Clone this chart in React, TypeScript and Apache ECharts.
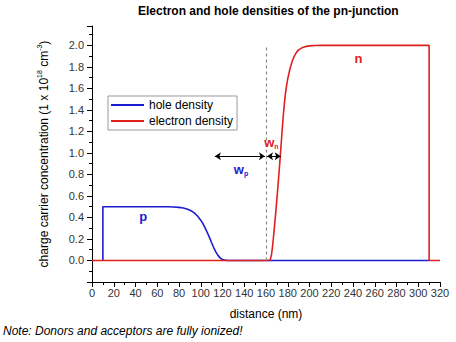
import React, { useEffect, useRef } from "react";
import * as echarts from "echarts";

const FONT = "'Liberation Sans', Arial, Helvetica, sans-serif";

const xTicks = [0, 20, 40, 60, 80, 100, 120, 140, 160, 180, 200, 220, 240, 260, 280, 300, 320];
const yTickLabels = ["0.0", "0.2", "0.4", "0.6", "0.8", "1.0", "1.2", "1.4", "1.6", "1.8", "2.0"];

const holeDistance = [10, 10, 20, 40, 60, 70, 75, 80, 84, 88, 91, 94, 97, 100, 102, 104, 106, 108, 110, 112, 114, 116, 118, 120, 122, 125, 310];
const holeValues = [0, 0.5, 0.5, 0.5, 0.5, 0.499, 0.497, 0.494, 0.488, 0.477, 0.463, 0.443, 0.414, 0.375, 0.343, 0.303, 0.26, 0.215, 0.165, 0.118, 0.078, 0.045, 0.022, 0.009, 0.003, 0, 0];

const electronDistance = [0, 163, 164, 165, 166, 167, 168, 169, 170, 171, 172, 173, 174, 175, 176, 177, 178, 179, 180, 182, 184, 186, 188, 190, 193, 196, 200, 205, 210, 310, 310, 320];
const electronValues = [0, 0, 0.01, 0.05, 0.13, 0.23, 0.34, 0.45, 0.57, 0.69, 0.82, 0.95, 1.09, 1.23, 1.36, 1.47, 1.56, 1.63, 1.69, 1.78, 1.85, 1.9, 1.935, 1.958, 1.977, 1.988, 1.995, 1.999, 2.0, 2.0, 0, 0];

const junctionX = 160;
const junctionTop = 2.0;
const arrowLevel = 0.97;
const wpArrow = [113, 159];
const wnArrow = [161, 173.5];

const BLUE = "#1c1cd2";
const RED = "#e0201e";

export default function App() {
  const ref = useRef<HTMLDivElement>(null);
  useEffect(() => {
    if (!ref.current) return;
    document.body.style.margin = "0";
    const chart = echarts.init(ref.current, undefined, { renderer: "svg" });
    const zip = (xs: number[], ys: number[]) => xs.map((x, i) => [x, ys[i]]);
    const option: any = {
      animation: false,
      textStyle: { fontFamily: FONT },
      grid: { left: 92, right: 16, top: 26, bottom: 60 },
      graphic: [
        {
          type: "text",
          left: 138,
          top: 5,
          style: { text: "Electron and hole densities of the pn-junction", fontFamily: FONT, fontSize: 12, fontWeight: "bold", fill: "#000" },
        },
        {
          type: "text",
          left: 3,
          top: 325,
          style: { text: "Note: Donors and acceptors are fully ionized!", fontFamily: FONT, fontSize: 12, fontStyle: "italic", fill: "#000" },
        },
      ],
      legend: {
        orient: "vertical",
        left: 108,
        top: 96,
        padding: [2, 4, 2, 3],
        itemGap: 2,
        itemWidth: 33,
        itemHeight: 2,
        icon: "rect",
        borderColor: "#999",
        borderWidth: 1,
        backgroundColor: "#fff",
        textStyle: { fontFamily: FONT, fontSize: 12, color: "#000", lineHeight: 14 },
        data: ["hole density", "electron density"],
      },
      xAxis: {
        type: "value",
        min: xTicks[0],
        max: xTicks[xTicks.length - 1],
        interval: 20,
        name: "distance (nm)",
        nameLocation: "middle",
        nameGap: 26,
        nameTextStyle: { fontFamily: FONT, fontSize: 12, color: "#000" },
        axisLine: { show: true, onZero: false, lineStyle: { color: "#000", width: 1 } },
        axisTick: { show: true, length: 5, lineStyle: { color: "#000" } },
        minorTick: { show: true, splitNumber: 2, length: 3, lineStyle: { color: "#000" } },
        splitLine: { show: false },
        axisLabel: { fontFamily: FONT, fontSize: 11, color: "#333", margin: 5 },
      },
      yAxis: {
        type: "value",
        min: -0.2,
        max: 2.18,
        interval: 0.2,
        name: "charge carrier concentration (1 x 10{sup|18} cm{sup|-3})",
        nameLocation: "middle",
        nameRotate: 90,
        nameGap: 40,
        nameTextStyle: {
          fontFamily: FONT,
          fontSize: 12,
          color: "#000",
          lineHeight: 16,
          rich: { sup: { fontFamily: FONT, fontSize: 7, verticalAlign: "top", lineHeight: 16, color: "#000" } },
        },
        axisLine: { show: true, onZero: false, lineStyle: { color: "#000", width: 1 } },
        axisTick: { show: true, length: 5, lineStyle: { color: "#000" } },
        minorTick: { show: true, splitNumber: 2, length: 3, lineStyle: { color: "#000" } },
        splitLine: { show: false },
        axisLabel: {
          fontFamily: FONT,
          fontSize: 11,
          color: "#333",
          margin: 8,
          formatter: (v: number) => {
            const idx = Math.round(v / 0.2);
            if (Math.abs(v - idx * 0.2) > 1e-6) return "";
            return yTickLabels[idx] ?? "";
          },
        },
      },
      series: [
        {
          name: "hole density",
          type: "line",
          data: zip(holeDistance, holeValues),
          symbol: "none",
          lineStyle: { color: BLUE, width: 1.6 },
          itemStyle: { color: BLUE },
          z: 2,
          markLine: {
            silent: true,
            symbol: ["arrow", "arrow"],
            symbolSize: 6,
            label: { show: false },
            lineStyle: { color: "#000", width: 1, type: "solid" },
            data: [
              [{ coord: [wpArrow[0], arrowLevel] }, { coord: [wpArrow[1], arrowLevel] }],
              [{ coord: [wnArrow[0], arrowLevel] }, { coord: [wnArrow[1], arrowLevel] }],
            ],
          },
          markPoint: {
            silent: true,
            symbol: "circle",
            symbolSize: 0,
            data: [
              {
                coord: [47, 0.405],
                label: { show: true, formatter: "p", fontFamily: FONT, fontSize: 13, fontWeight: "bold", color: BLUE, position: "inside" },
              },
              {
                coord: [137, 0.85],
                label: {
                  show: true,
                  formatter: "w{s|p}",
                  fontFamily: FONT,
                  fontSize: 13,
                  fontWeight: "bold",
                  color: BLUE,
                  position: "inside",
                  lineHeight: 16,
                  rich: { s: { fontSize: 7, fontWeight: "bold", color: BLUE, verticalAlign: "bottom", lineHeight: 16 } },
                },
              },
            ],
          },
        },
        {
          name: "electron density",
          type: "line",
          data: zip(electronDistance, electronValues),
          symbol: "none",
          lineStyle: { color: RED, width: 1.6 },
          itemStyle: { color: RED },
          z: 3,
          markLine: {
            silent: true,
            symbol: ["none", "none"],
            label: { show: false },
            lineStyle: { color: "#888", width: 1.2, type: [3, 3] },
            data: [[{ coord: [junctionX, 0] }, { coord: [junctionX, junctionTop] }]],
          },
          markPoint: {
            silent: true,
            symbol: "circle",
            symbolSize: 0,
            data: [
              {
                coord: [245, 1.88],
                label: { show: true, formatter: "n", fontFamily: FONT, fontSize: 13, fontWeight: "bold", color: RED, position: "inside" },
              },
              {
                coord: [165, 1.1],
                label: {
                  show: true,
                  formatter: "w{s|n}",
                  fontFamily: FONT,
                  fontSize: 13,
                  fontWeight: "bold",
                  color: RED,
                  position: "inside",
                  lineHeight: 16,
                  rich: { s: { fontSize: 7, fontWeight: "bold", color: RED, verticalAlign: "bottom", lineHeight: 16 } },
                },
              },
            ],
          },
        },
      ],
    };
    chart.setOption(option);
    return () => chart.dispose();
  }, []);
  return <div ref={ref} style={{ width: 456, height: 342 }} />;
}
